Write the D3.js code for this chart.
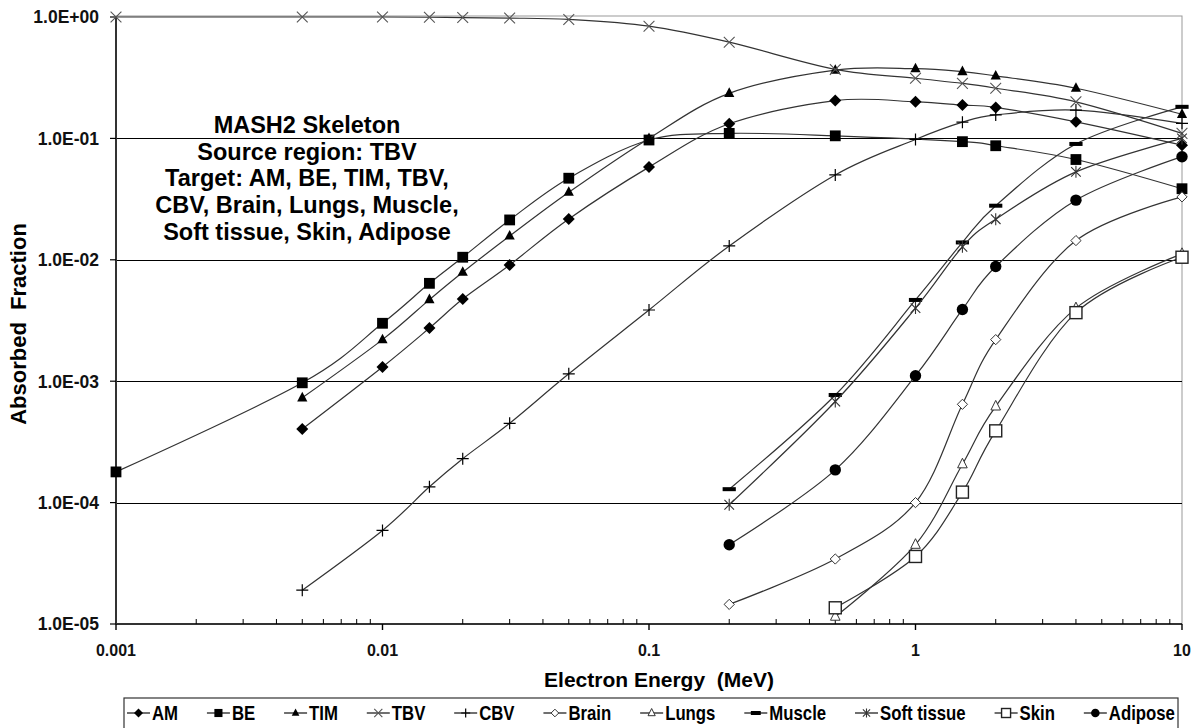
<!DOCTYPE html>
<html><head><meta charset="utf-8">
<script src="https://cdn.jsdelivr.net/npm/d3@7"></script>
<style>
html,body{margin:0;padding:0;background:#fff;}
svg{display:block;}
text{font-family:Arial,"Liberation Sans",sans-serif;white-space:pre;}
</style></head>
<body>
<svg id="c" width="1199" height="728"></svg>
<script>
// ---------- DATA ----------
const energies = [0.001, 0.005, 0.01, 0.015, 0.02, 0.03, 0.05, 0.1, 0.2, 0.5, 1, 1.5, 2, 4, 10];
const AM      = [null, 4.04e-4, 1.31e-3, 2.74e-3, 4.75e-3, 9.06e-3, 0.0217, 0.058, 0.132, 0.205, 0.200, 0.188, 0.180, 0.137, 0.088];
const BE      = [1.79e-4, 9.7e-4, 3.0e-3, 6.4e-3, 0.0105, 0.0213, 0.047, 0.097, 0.110, 0.105, null, 0.094, 0.087, 0.067, 0.0385];
const TIM     = [null, 7.3e-4, 2.2e-3, 4.7e-3, 7.9e-3, 0.0157, 0.036, 0.100, 0.235, 0.365, 0.375, 0.355, 0.327, 0.259, 0.158];
const TBV     = [1.0, 1.0, 1.0, 0.995, 0.99, 0.98, 0.955, 0.84, 0.62, 0.37, 0.313, 0.284, 0.259, 0.200, 0.110];
const CBV     = [null, 1.9e-5, 5.9e-5, 1.35e-4, 2.3e-4, 4.5e-4, 1.15e-3, 3.86e-3, 0.013, 0.050, 0.098, 0.136, 0.156, 0.171, 0.133];
const Brain   = [null, null, null, null, null, null, null, null, 1.45e-5, 3.43e-5, 1.0e-4, 6.45e-4, 2.2e-3, 0.0144, 0.033];
const Lungs   = [null, null, null, null, null, null, null, null, null, 1.15e-5, 4.5e-5, 2.07e-4, 6.2e-4, 4.0e-3, 0.0112];
const Muscle  = [null, null, null, null, null, null, null, null, 1.29e-4, 7.7e-4, 4.67e-3, 0.0139, 0.0279, 0.090, 0.182];
const SoftTissue = [null, null, null, null, null, null, null, null, 9.6e-5, 6.8e-4, 4.0e-3, 0.0128, 0.0216, 0.053, 0.100];
const Skin    = [null, null, null, null, null, null, null, null, null, 1.36e-5, 3.6e-5, 1.22e-4, 3.9e-4, 3.67e-3, 0.0105];
const Adipose = [null, null, null, null, null, null, null, null, 4.5e-5, 1.86e-4, 1.11e-3, 3.9e-3, 8.8e-3, 0.031, 0.0707];

const seriesNames = ["AM", "BE", "TIM", "TBV", "CBV", "Brain", "Lungs", "Muscle", "Soft tissue", "Skin", "Adipose"];
const seriesValues = [AM, BE, TIM, TBV, CBV, Brain, Lungs, Muscle, SoftTissue, Skin, Adipose];
const markerTypes = ["diamondF", "squareF", "triangleF", "cross", "plus", "diamondO", "triangleO", "dash", "star", "squareO", "circleF"];

const xTickValues = [0.001, 0.01, 0.1, 1, 10];
const xTickLabels = ["0.001", "0.01", "0.1", "1", "10"];
const yTickValues = [1e-5, 1e-4, 1e-3, 1e-2, 1e-1, 1];
const yTickLabels = ["1.0E-05", "1.0E-04", "1.0E-03", "1.0E-02", "1.0E-01", "1.0E+00"];
const noteLines = ["MASH2 Skeleton", "Source region: TBV", "Target: AM, BE, TIM, TBV,", "CBV, Brain, Lungs, Muscle,", "Soft tissue, Skin, Adipose"];
const xTitle = "Electron Energy  (MeV)";
const yTitle = "Absorbed  Fraction";

// ---------- LAYOUT ----------
const svg = d3.select("#c");
const L = 116, R = 1182, T = 17, B = 624;
const x = d3.scaleLog().domain([0.001, 10]).range([L, R]);
const y = d3.scaleLog().domain([1e-5, 1]).range([B, T]);

// plot frame (grey top/right)
svg.append("rect").attr("x", L).attr("y", T - 1).attr("width", R - L).attr("height", B - T + 1)
  .attr("fill", "none").attr("stroke", "#999").attr("stroke-width", 1);

// gridlines
svg.append("g").selectAll("line").data(yTickValues.filter(v => v > 1e-5 && v < 1)).join("line")
  .attr("x1", L).attr("x2", R).attr("y1", d => Math.round(y(d)) + 0.5).attr("y2", d => Math.round(y(d)) + 0.5)
  .attr("stroke", "#000").attr("stroke-width", 1.2);

// x axis
const xAxis = svg.append("g");
xAxis.append("line").attr("x1", L).attr("x2", R).attr("y1", B).attr("y2", B).attr("stroke", "#000").attr("stroke-width", 1.6);
const minor = [];
for (let d = 0.001; d < 10; d *= 10) for (let k = 2; k <= 9; k++) minor.push(d * k);
xAxis.selectAll("line.mi").data(minor).join("line").attr("class", "mi")
  .attr("x1", d => x(d)).attr("x2", d => x(d)).attr("y1", B).attr("y2", B - 5).attr("stroke", "#000").attr("stroke-width", 1);
xAxis.selectAll("line.ma").data(xTickValues).join("line").attr("class", "ma")
  .attr("x1", d => x(d)).attr("x2", d => x(d)).attr("y1", B).attr("y2", B + 6).attr("stroke", "#000").attr("stroke-width", 1.4);
xAxis.selectAll("text").data(xTickValues).join("text")
  .attr("x", d => x(d)).attr("y", 656).attr("text-anchor", "middle")
  .attr("font-size", 16).attr("font-weight", "bold").attr("fill", "#111")
  .text((d, i) => xTickLabels[i]);

// y axis
const yAxis = svg.append("g");
yAxis.append("line").attr("x1", L).attr("x2", L).attr("y1", T).attr("y2", B).attr("stroke", "#333").attr("stroke-width", 2);
yAxis.selectAll("line.ma").data(yTickValues).join("line").attr("class", "ma")
  .attr("x1", L - 6).attr("x2", L).attr("y1", d => y(d)).attr("y2", d => y(d)).attr("stroke", "#000").attr("stroke-width", 1.2);
yAxis.selectAll("text").data(yTickValues).join("text")
  .attr("x", 99).attr("y", d => y(d) + 6.3).attr("text-anchor", "end")
  .attr("font-size", 17.5).attr("font-weight", "bold").attr("fill", "#111")
  .text((d, i) => yTickLabels[i]);

// axis titles
svg.append("text").attr("x", 659).attr("y", 687).attr("text-anchor", "middle")
  .attr("font-size", 21).attr("font-weight", "bold").attr("fill", "#000").text(xTitle);
svg.append("text").attr("transform", "translate(26,324) rotate(-90)").attr("text-anchor", "middle")
  .attr("font-size", 22).attr("font-weight", "bold").attr("fill", "#000").text(yTitle);

// annotation
const note = svg.append("g");
noteLines.forEach((t, i) => {
  note.append("text").attr("x", 307).attr("y", 133 + i * 26.7).attr("text-anchor", "middle")
    .attr("font-size", 23.5).attr("font-weight", "bold").attr("fill", "#000").text(t);
});

// ---------- MARKERS ----------
function marker(g, type, cx, cy, s) {
  const h = s / 2;
  switch (type) {
    case "diamondF": g.append("path").attr("d", `M${cx},${cy - h}L${cx + h},${cy}L${cx},${cy + h}L${cx - h},${cy}Z`).attr("fill", "#000"); break;
    case "squareF": g.append("rect").attr("x", cx - h * 0.9).attr("y", cy - h * 0.9).attr("width", s * 0.9).attr("height", s * 0.9).attr("fill", "#000"); break;
    case "triangleF": g.append("path").attr("d", `M${cx},${cy - h}L${cx + h * 0.85},${cy + h * 0.6}L${cx - h * 0.85},${cy + h * 0.6}Z`).attr("fill", "#000"); break;
    case "cross": g.append("path").attr("d", `M${cx - h * 0.9},${cy - h * 0.9}L${cx + h * 0.9},${cy + h * 0.9}M${cx - h * 0.9},${cy + h * 0.9}L${cx + h * 0.9},${cy - h * 0.9}`).attr("stroke", "#555").attr("stroke-width", 1.1).attr("fill", "none"); break;
    case "plus": g.append("path").attr("d", `M${cx - h},${cy}L${cx + h},${cy}M${cx},${cy - h}L${cx},${cy + h}`).attr("stroke", "#000").attr("stroke-width", 1.2).attr("fill", "none"); break;
    case "diamondO": g.append("path").attr("d", `M${cx},${cy - h * 0.85}L${cx + h * 0.85},${cy}L${cx},${cy + h * 0.85}L${cx - h * 0.85},${cy}Z`).attr("fill", "#fff").attr("stroke", "#333").attr("stroke-width", 1); break;
    case "triangleO": g.append("path").attr("d", `M${cx},${cy - h}L${cx + h * 0.8},${cy + h * 0.6}L${cx - h * 0.8},${cy + h * 0.6}Z`).attr("fill", "#fff").attr("stroke", "#333").attr("stroke-width", 1); break;
    case "dash": g.append("rect").attr("x", cx - h * 1.1).attr("y", cy - 2).attr("width", s * 1.1).attr("height", 4).attr("fill", "#000"); break;
    case "star": g.append("path").attr("d", `M${cx - h * 0.8},${cy - h * 0.8}L${cx + h * 0.8},${cy + h * 0.8}M${cx - h * 0.8},${cy + h * 0.8}L${cx + h * 0.8},${cy - h * 0.8}M${cx},${cy - h}L${cx},${cy + h}`).attr("stroke", "#333").attr("stroke-width", 1.1).attr("fill", "none"); break;
    case "squareO": g.append("rect").attr("x", cx - h).attr("y", cy - h).attr("width", s).attr("height", s).attr("fill", "#fff").attr("stroke", "#222").attr("stroke-width", 1.4); break;
    case "circleF": g.append("circle").attr("cx", cx).attr("cy", cy).attr("r", h * 0.95).attr("fill", "#000"); break;
  }
}

// ---------- SERIES ----------
const line = d3.line().defined(d => d[1] != null).x(d => x(d[0])).y(d => y(d[1])).curve(d3.curveCatmullRom.alpha(0));
const plot = svg.append("g");
seriesValues.forEach((vals, si) => {
  const pts = energies.map((e, i) => [e, vals[i]]).filter(d => d[1] != null);
  const g = plot.append("g");
  g.append("path").datum(pts).attr("d", line).attr("fill", "none").attr("stroke", "#333").attr("stroke-width", 1.2);
  pts.forEach(p => marker(g, markerTypes[si], x(p[0]), y(p[1]), 12));
});

// ---------- LEGEND ----------
const lg = svg.append("g");
const lx0 = 124, lx1 = 1178, ly0 = 698;
lg.append("rect").attr("x", lx0).attr("y", ly0).attr("width", lx1 - lx0).attr("height", 40)
  .attr("fill", "#fff").attr("stroke", "#333").attr("stroke-width", 1.2);
const items = lg.append("g");
let cx = 0;
const segW = 23, gap = 2, itemGap = 4, squeeze = 0.86;
const pos = [];
seriesNames.forEach((n, i) => {
  const t = items.append("text").attr("font-size", 19.5).attr("font-weight", "bold").attr("fill", "#000").text(n);
  const w = t.node().getComputedTextLength() * squeeze;
  pos.push({ i, t, w, start: cx });
  cx += segW + gap + w + itemGap;
});
const total = cx - itemGap;
const extra = ((lx1 - lx0 - 6) - total) / (seriesNames.length - 1);
pos.forEach((p, k) => {
  const s = lx0 + 3 + p.start + k * extra;
  const my = ly0 + 15;
  items.append("line").attr("x1", s).attr("x2", s + segW).attr("y1", my).attr("y2", my).attr("stroke", "#222").attr("stroke-width", 1.3);
  marker(items, markerTypes[p.i], s + segW / 2, my, 9);
  p.t.attr("transform", `translate(${s + segW + gap},${ly0 + 22}) scale(${squeeze},1)`);
});
</script>
</body></html>
